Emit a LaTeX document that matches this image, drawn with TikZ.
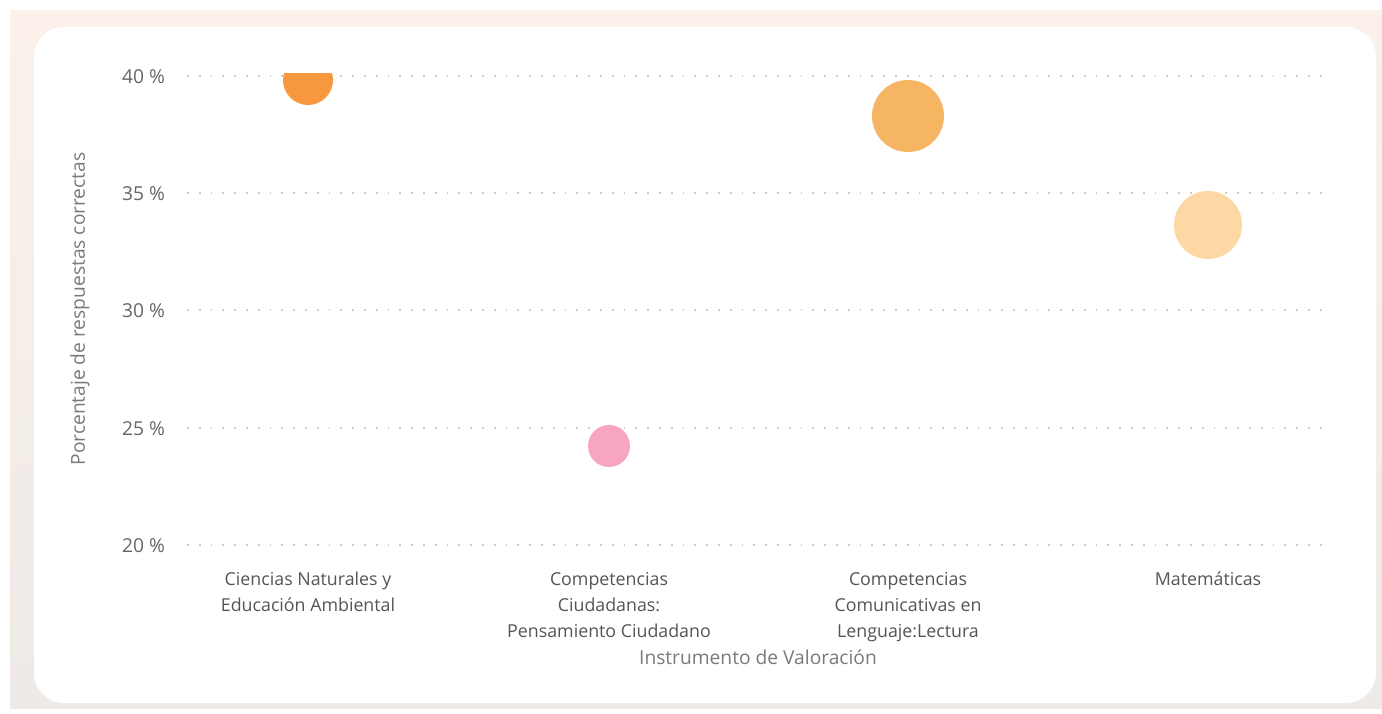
\documentclass[tikz,border=0pt]{standalone}
\usepackage{fontspec}
\setmainfont{Open Sans}
\usetikzlibrary{positioning}
\definecolor{peach}{HTML}{FBF1EA}
\definecolor{beige}{HTML}{EEEAE7}
\definecolor{gridc}{HTML}{CDCDCD}
\definecolor{tickc}{HTML}{666666}
\definecolor{titc}{HTML}{7A7A7A}
\definecolor{catc}{HTML}{555555}
\definecolor{orA}{HTML}{F7983E}
\definecolor{orB}{HTML}{F5B563}
\definecolor{orC}{HTML}{FDD8A4}
\definecolor{pk}{HTML}{F8A5C3}

\begin{document}
\begin{tikzpicture}[x=0.5pt,y=-0.5pt,
	every node/.style={font=\fontsize{9}{10}\selectfont},
	bub/.style={circle,inner sep=0pt},
	tick/.style={anchor=east,text=tickc,font=\fontsize{9.6}{10}\selectfont},
	cat/.style={align=center,text=catc,anchor=north,font=\fontsize{8.9}{13}\selectfont},
	tit/.style={text=titc,font=\fontsize{9.6}{10}\selectfont},
	grid/.style={gridc,line width=0.9pt,dash pattern=on 0.9pt off 5pt}]
	\useasboundingbox (0,0) rectangle (1382,713);
	\shade[top color=peach,bottom color=beige] (10,10) rectangle (1382,708);
	\fill[white,rounded corners=15pt] (34,27) rectangle (1376,703);
	
	\draw[grid] (187,76) -- (1330,76);
	\draw[grid] (187,193) -- (1330,193);
	\draw[grid] (187,310) -- (1330,310);
	\draw[grid] (187,428) -- (1330,428);
	\draw[grid] (187,545) -- (1330,545);
	\node[tick] (t40)at(172,77) {40 \%};
	\node[tick] (t35)at(172,194) {35 \%};
	\node[tick] (t30)at(172,311) {30 \%};
	\node[tick] (t25)at(172,429) {25 \%};
	\node[tick] (t20)at(172,546) {20 \%};
	\node[tit,rotate=90] (ytit)at(80,309) {Porcentaje de respuestas correctas};
	
	\begin{scope}
		\clip (187,73) rectangle (1330,700);
		\node[bub,fill=orA,minimum size=25] (b1)at(308,80) {};
	\end{scope}
	\node[bub,fill=pk,minimum size=21] (b2)at(609,446) {};
	\node[bub,fill=orB,minimum size=36] (b3)at(908,116) {};
	\node[bub,fill=orC,minimum size=34] (b4)at(1208,225) {};
	
	\node[cat] (c1)at(308,565) {Ciencias Naturales y\\Educación Ambiental};
	\node[cat] (c2)at(609,565) {Competencias\\Ciudadanas:\\Pensamiento Ciudadano};
	\node[cat] (c3)at(908,565) {Competencias\\Comunicativas en\\Lenguaje:Lectura};
	\node[cat] (c4)at(1208,565) {Matemáticas};
	\node[tit] (xtit)at(758,657) {Instrumento de Valoración};
\end{tikzpicture}
\end{document}
